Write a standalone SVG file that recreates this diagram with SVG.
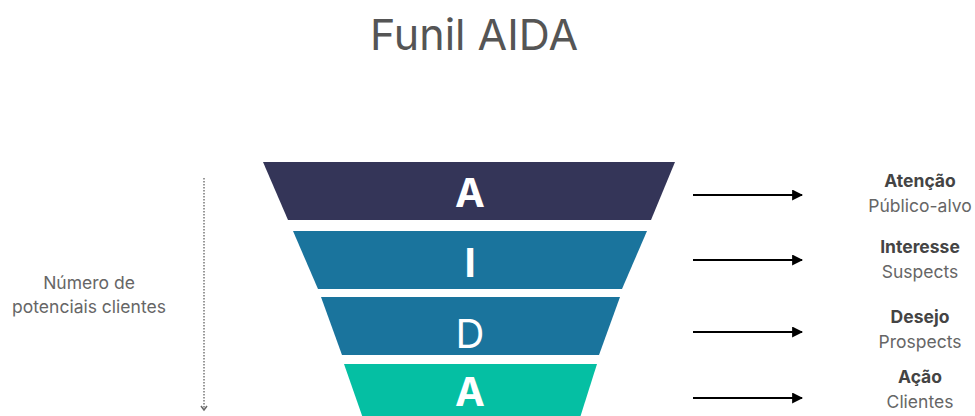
<svg xmlns="http://www.w3.org/2000/svg" width="975" height="416" viewBox="0 0 975 416">
  <defs>
    <marker id="head" viewBox="0 0 10 10" refX="9" refY="5" markerWidth="5.5" markerHeight="5.5" orient="auto" markerUnits="strokeWidth">
      <path d="M0,0 L10,5 L0,10 z" fill="#000"/>
    </marker>
    <style>
      .title { font-family: Inter, "Liberation Sans", sans-serif; font-size: 43px; fill: #555; }
      .letter { font-family: Inter, "Liberation Sans", sans-serif; font-size: 40px; fill: #fff; text-anchor: middle; }
      .bold { font-weight: 700; }
      .stage { font-family: Inter, "Liberation Sans", sans-serif; font-size: 17.5px; font-weight: 700; fill: #444; text-anchor: middle; }
      .sub { font-family: Inter, "Liberation Sans", sans-serif; font-size: 17.5px; fill: #666; text-anchor: middle; }
      .arrow { stroke: #000; stroke-width: 2; fill: none; }
      .axis { stroke: #777; stroke-width: 1.5; stroke-dasharray: 1.5 1.5; fill: none; }
    </style>
  </defs>
  <rect width="975" height="416" fill="#fff"/>

  <text class="title" x="474" y="50" text-anchor="middle">Funil AIDA</text>

  <!-- funnel bands -->
  <g id="atencao">
    <polygon points="263,162 675,162 651,220 288,220" fill="#343558"/>
    <text class="letter bold" x="470" y="207">A</text>
  </g>
  <g id="interesse">
    <polygon points="293,231 647,231 622,289 318,289" fill="#1a749d"/>
    <text class="letter bold" x="470" y="277">I</text>
  </g>
  <g id="desejo">
    <polygon points="321,297 620,297 599,355 342,355" fill="#1a749d"/>
    <text class="letter" x="470" y="348" font-size="34">D</text>
  </g>
  <g id="acao">
    <polygon points="344,364 597,364 578,424 365,424" fill="#05bfa3"/>
    <text class="letter bold" x="470" y="406">A</text>
  </g>

  <!-- stage labels -->
  <g id="label-atencao">
    <text class="stage" x="920" y="187">Atenção</text>
    <text class="sub" x="920" y="212">Público-alvo</text>
  </g>
  <g id="label-interesse">
    <text class="stage" x="920" y="253">Interesse</text>
    <text class="sub" x="920" y="278">Suspects</text>
  </g>
  <g id="label-desejo">
    <text class="stage" x="920" y="323">Desejo</text>
    <text class="sub" x="920" y="348">Prospects</text>
  </g>
  <g id="label-acao">
    <text class="stage" x="920" y="383">Ação</text>
    <text class="sub" x="920" y="408">Clientes</text>
  </g>

  <!-- axis label -->
  <g id="axis-label">
    <text class="sub" x="89" y="289">Número de</text>
    <text class="sub" x="89" y="313">potenciais clientes</text>
  </g>

  <!-- connectors -->
  <g id="connectors">
    <line class="arrow" x1="693" y1="195" x2="802" y2="195" marker-end="url(#head)"/>
    <line class="arrow" x1="693" y1="260" x2="802" y2="260" marker-end="url(#head)"/>
    <line class="arrow" x1="693" y1="332" x2="802" y2="332" marker-end="url(#head)"/>
    <line class="arrow" x1="693" y1="398" x2="802" y2="398" marker-end="url(#head)"/>
    <line class="axis" x1="204" y1="178" x2="204" y2="409"/>
    <path d="M201,406 L204,410 L207,406" fill="none" stroke="#666" stroke-width="1.5"/>
  </g>
</svg>
